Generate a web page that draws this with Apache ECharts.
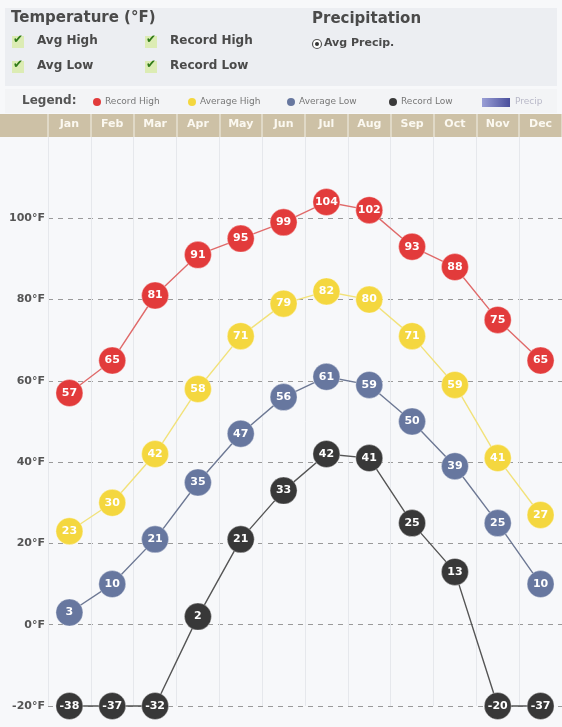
<!DOCTYPE html>
<html><head><meta charset="utf-8">
<script src="https://cdn.jsdelivr.net/npm/echarts@6/dist/echarts.min.js"></script>
<style>html,body{margin:0;padding:0;background:#f7f8fa;}#c{width:562px;height:727px;}</style>
</head><body><div id="c"></div>
<script>
const months = ['Jan','Feb','Mar','Apr','May','Jun','Jul','Aug','Sep','Oct','Nov','Dec'];
const recordHigh = [57,65,81,91,95,99,104,102,93,88,75,65];
const avgHigh = [23,30,42,58,71,79,82,80,71,59,41,27];
const avgLow = [3,10,21,35,47,56,61,59,50,39,25,10];
const recordLow = [-38,-37,-32,2,21,33,42,41,25,13,-20,-37];
const yTicks = [-20,0,20,40,60,80,100,120];
const Y_MIN = -20, Y_MAX = 120;

const FONT = '"DejaVu Sans", Verdana, sans-serif';
const chart = echarts.init(document.getElementById('c'));

function mk(name, arr, fill, line, z) {
  return {
    name, type: 'line', data: arr.map(v => Math.max(v, Y_MIN)),
    symbol: 'circle', symbolSize: 27, clip: false, z,
    itemStyle: { color: fill, borderColor: 'rgba(255,255,255,0.35)', borderWidth: 1 },
    lineStyle: { color: line, width: 1.4 },
    label: { show: true, position: 'inside', color: '#fff', fontSize: 11, fontWeight: 'bold', fontFamily: FONT,
             formatter: p => String(arr[p.dataIndex]) },
    emphasis: { disabled: true }, animation: false
  };
}

function check(x, y, label) {
  return [
    { type: 'rect', shape: { x, y, width: 12, height: 12 }, style: { fill: '#dcecb4' } },
    { type: 'text', x: x + 1, y: y - 2, style: { text: '✔', fill: '#2f7a18', font: 'bold 12px ' + FONT } },
    { type: 'text', x: x + 25, y: y - 1, style: { text: label, fill: '#4a4a4a', font: 'bold 12px ' + FONT } }
  ];
}

const legendItems = [
  { x: 93, label: 'Record High', color: '#e23b3b' },
  { x: 188, label: 'Average High', color: '#f4d73f' },
  { x: 287, label: 'Average Low', color: '#67779f' },
  { x: 389, label: 'Record Low', color: '#3a3a3a' }
];

const graphics = [
  { type: 'rect', shape: { x: 5, y: 8, width: 552, height: 78 }, style: { fill: '#eceef2' }, z: -10 },
  { type: 'text', x: 11, y: 11, style: { text: 'Temperature (°F)', fill: '#4a4a4a', font: 'bold 15px ' + FONT } },
  { type: 'text', x: 312, y: 12, style: { text: 'Precipitation', fill: '#4a4a4a', font: 'bold 15px ' + FONT } },
  ...check(12, 36, 'Avg High'),
  ...check(145, 36, 'Record High'),
  ...check(12, 61, 'Avg Low'),
  ...check(145, 61, 'Record Low'),
  { type: 'circle', shape: { cx: 317, cy: 44, r: 4.5 }, style: { fill: '#fff', stroke: '#555', lineWidth: 1.2 } },
  { type: 'circle', shape: { cx: 317, cy: 44, r: 2 }, style: { fill: '#333' } },
  { type: 'text', x: 324, y: 38, style: { text: 'Avg Precip.', fill: '#4a4a4a', font: 'bold 11px ' + FONT } },
  { type: 'rect', shape: { x: 5, y: 89, width: 552, height: 24 }, style: { fill: '#f3f4f6' }, z: -10 },
  { type: 'text', x: 22, y: 95, style: { text: 'Legend:', fill: '#555', font: 'bold 12px ' + FONT } },
  ...legendItems.flatMap(it => [
    { type: 'circle', shape: { cx: it.x + 4, cy: 102, r: 4 }, style: { fill: it.color } },
    { type: 'text', x: it.x + 12, y: 97, style: { text: it.label, fill: '#777', font: '9px ' + FONT } }
  ]),
  { type: 'rect', shape: { x: 482, y: 98, width: 28, height: 9 },
    style: { fill: new echarts.graphic.LinearGradient(0, 0, 1, 0, [{ offset: 0, color: '#9a9fd6' }, { offset: 1, color: '#4a4f9c' }]) } },
  { type: 'text', x: 515, y: 97, style: { text: 'Precip', fill: '#b8b8c8', font: '9px ' + FONT } },
  { type: 'rect', shape: { x: 0, y: 114, width: 562, height: 23 }, style: { fill: '#cdc1a6' }, z: -5 }
];

chart.setOption({
  animation: false,
  backgroundColor: '#f7f8fa',
  graphic: graphics,
  grid: { left: 48, top: 137, width: 523, height: 569 },
  xAxis: {
    type: 'category', data: months, position: 'top', boundaryGap: true,
    axisLine: { show: false, onZero: false },
    axisTick: { show: true, inside: false, length: 23, lineStyle: { color: '#e6e1d2', width: 1.5 } },
    axisLabel: { color: '#fbf8f0', fontSize: 11, fontWeight: 'bold', fontFamily: FONT, margin: 7 },
    splitLine: { show: true, lineStyle: { color: '#e6e8ec', width: 1 } }
  },
  yAxis: {
    type: 'value', min: Y_MIN, max: Y_MAX, interval: 20,
    axisLine: { show: false }, axisTick: { show: false },
    axisLabel: { color: '#555', fontSize: 11, fontWeight: 'bold', fontFamily: FONT, margin: 3,
                 formatter: v => (yTicks.indexOf(v) >= 0 && v < Y_MAX) ? v + '°F' : '' },
    splitLine: { show: true, lineStyle: { type: [5, 5], width: 1,
                 color: yTicks.map(v => v < Y_MAX ? '#9a9a9a' : 'rgba(0,0,0,0)') } }
  },
  series: [
    mk('Average High', avgHigh, '#f4d73f', '#f2e27a', 2),
    mk('Average Low', avgLow, '#67779f', '#6d7894', 3),
    mk('Record Low', recordLow, '#383838', '#555555', 4),
    mk('Record High', recordHigh, '#e23b3b', '#e06a6a', 5)
  ]
});
</script></body></html>
